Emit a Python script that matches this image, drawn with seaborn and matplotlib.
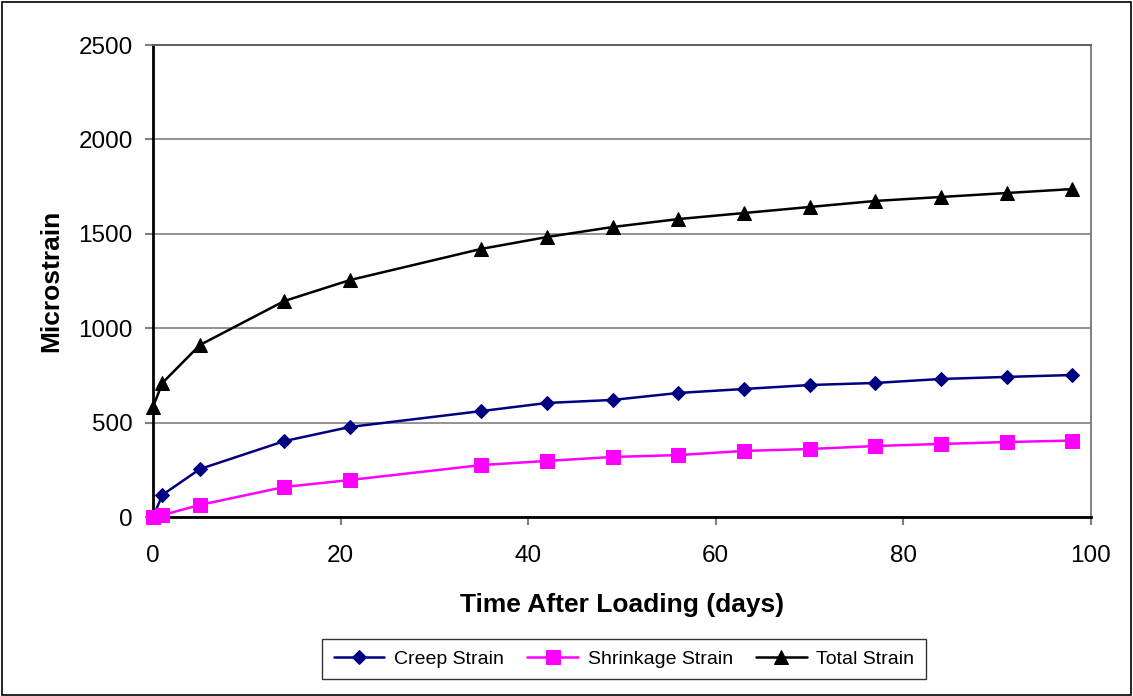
import matplotlib
matplotlib.use("Agg")
import matplotlib.pyplot as plt
import seaborn as sns
import pandas as pd
from matplotlib.patches import Rectangle

# Days after loading and measured strains (microstrain)
days = [0, 1, 5, 14, 21, 35, 42, 49, 56, 63, 70, 77, 84, 91, 98]
creep_strain = [0, 117, 254, 402, 477, 561, 604, 620, 657, 678, 699, 710, 731, 742, 752]
shrinkage_strain = [0, 10, 64, 159, 196, 275, 297, 318, 328, 350, 360, 376, 387, 397, 405]
total_strain = [583, 710, 911, 1144, 1255, 1420, 1483, 1536, 1578, 1610, 1642, 1674, 1695, 1716, 1737]

series_names = ["Creep Strain", "Shrinkage Strain", "Total Strain"]
x_ticks = [0, 20, 40, 60, 80, 100]
y_ticks = [0, 500, 1000, 1500, 2000, 2500]

df = pd.DataFrame({
    "days": days * 3,
    "strain": creep_strain + shrinkage_strain + total_strain,
    "series": [series_names[0]] * len(days) + [series_names[1]] * len(days) + [series_names[2]] * len(days),
})

sns.set_theme(style="white")
plt.rcParams["font.family"] = ["Liberation Sans", "DejaVu Sans"]
plt.rcParams["text.color"] = "black"
plt.rcParams["axes.labelcolor"] = "black"

fig = plt.figure(figsize=(11.33, 6.96), dpi=100)
ax = fig.add_axes([153 / 1133, 1 - 517 / 696, (1091 - 153) / 1133, (517 - 45) / 696])

styles = {
    "Creep Strain": dict(color="#000080", marker="D", markersize=7.5),
    "Shrinkage Strain": dict(color="#FF00FF", marker="s", markersize=9.5),
    "Total Strain": dict(color="#000000", marker="^", markersize=10),
}
for name in series_names:
    st = styles[name]
    sns.lineplot(data=df[df["series"] == name], x="days", y="strain", ax=ax,
                 color=st["color"], marker=st["marker"], markersize=st["markersize"],
                 markeredgecolor=st["color"], linewidth=1.8, label=name, clip_on=False,
                 zorder=3)

ax.set_xlim(0, 100)
ax.set_ylim(0, 2500)
ax.set_xticks(x_ticks)
ax.set_yticks(y_ticks)
ax.tick_params(axis="both", labelsize=17.5, color="#808080", labelcolor="black",
               direction="out", length=6, width=1.5, left=True, bottom=True)
ax.tick_params(axis="y", pad=8.5)
ax.tick_params(axis="x", pad=14)
ax.yaxis.grid(True, color="#808080", linewidth=1.2)
ax.xaxis.grid(False)

for side in ["left", "bottom"]:
    ax.spines[side].set_color("black")
    ax.spines[side].set_linewidth(2)
ax.spines["right"].set_color("#808080")
ax.spines["right"].set_linewidth(1.4)
ax.spines["top"].set_color("#606060")
ax.spines["top"].set_linewidth(1.4)

ax.set_xlabel("Time After Loading (days)", fontsize=19, fontweight="bold", labelpad=19)
ax.set_ylabel("Microstrain", fontsize=19, fontweight="bold", labelpad=11)

leg = ax.legend(loc="center", bbox_to_anchor=((624 - 153) / (1091 - 153), -(659 - 517) / (517 - 45)),
                ncol=3, frameon=True, fancybox=False, handlelength=2.6,
                handletextpad=0.5, columnspacing=1.2, borderpad=0.6,
                prop={"family": "Liberation Sans", "size": 14})
leg.get_frame().set_edgecolor("black")
leg.get_frame().set_linewidth(1.0)

# Outer frame around the whole chart
fig.patches.append(Rectangle((0.002, 0.002), 0.996, 0.995, transform=fig.transFigure,
                             fill=False, edgecolor="black", linewidth=1.2))

fig.savefig("out.png", dpi=100)
